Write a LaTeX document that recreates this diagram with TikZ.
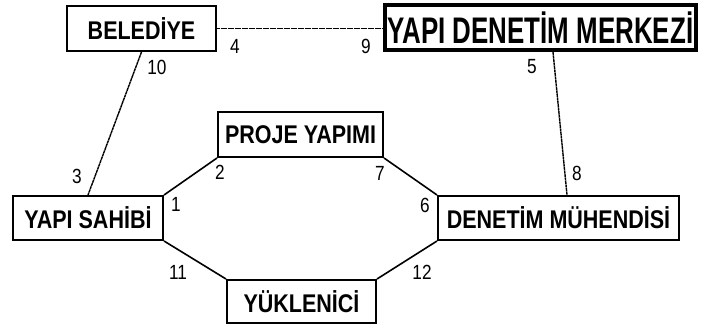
\documentclass[tikz,border=0pt]{standalone}
\usepackage{fontspec}
\setmainfont[FakeStretch=0.84]{Liberation Sans}
\newfontfamily\ydmfont[FakeStretch=0.7]{Liberation Sans}
\begin{document}
\begin{tikzpicture}[x=1pt,y=-1pt,
  box/.style={draw=black,line width=1.6pt,fill=white,inner sep=0pt,font=\fontsize{25.6}{27}\selectfont\bfseries},
  bigbox/.style={box,line width=4pt,font=\ydmfont\fontsize{37}{40}\selectfont\bfseries},
  lnk/.style={line width=1.6pt},
  dlnk/.style={line width=1.4pt,dash pattern=on 3pt off 0.5pt},
  num/.style={inner sep=0pt,font=\fontsize{20.5}{22}\selectfont}]
\useasboundingbox[fill=white] (0,0) rectangle (703,329);
\node[box,minimum width=149.4pt,minimum height=45.4pt] (bel) at (141.5,28.5) {BELEDİYE};
\node[bigbox,minimum width=311pt,minimum height=45pt] (ydm) at (540.5,27.5) {YAPI DENETİM MERKEZİ};
\node[box,minimum width=165.4pt,minimum height=45.4pt] (py) at (300.5,134.5) {PROJE YAPIMI};
\node[box,minimum width=150.4pt,minimum height=44.4pt] (ys) at (88,218) {YAPI SAHİBİ};
\node[box,minimum width=241.4pt,minimum height=44.4pt] (dm) at (558.5,218) {DENETİM MÜHENDİSİ};
\node[box,minimum width=149.4pt,minimum height=43.4pt] (yk) at (301.5,301.5) {YÜKLENİCİ};
\draw[dlnk] (bel.east) -- (bel.east -| ydm.west);
\draw[dlnk] (bel.south) -- (ys.north);
\draw[dlnk] ([xshift=12.5pt]ydm.south) -- ([xshift=8.5pt]dm.north);
\draw[lnk] (ys.north east) -- (py.south west);
\draw[lnk] (py.south east) -- (dm.north west);
\draw[lnk] (ys.south east) -- (yk.north west);
\draw[lnk] (dm.south west) -- (yk.north east);
\node[num] (n4) at (235,46) {4};
\node[num] (n9) at (366,46) {9};
\node[num] (n10) at (157,67) {10};
\node[num] (n5) at (532,67) {5};
\node[num] (n3) at (77,176) {3};
\node[num] (n2) at (220,172) {2};
\node[num] (n1) at (176,204) {1};
\node[num] (n11) at (178,272) {11};
\node[num] (n7) at (380,173) {7};
\node[num] (n6) at (425,205) {6};
\node[num] (n8) at (577,173) {8};
\node[num] (n12) at (422,272) {12};
\end{tikzpicture}
\end{document}
